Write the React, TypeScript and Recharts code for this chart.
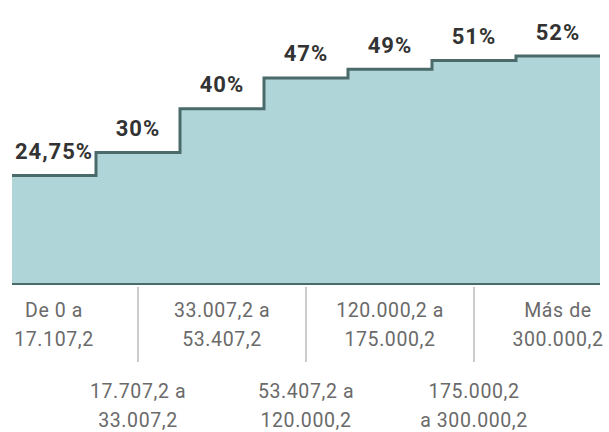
import { ComposedChart, Area, Scatter, XAxis, YAxis, LabelList } from 'recharts'

const brackets = [
  ['De 0 a', '17.107,2'],
  ['17.707,2 a', '33.007,2'],
  ['33.007,2 a', '53.407,2'],
  ['53.407,2 a', '120.000,2'],
  ['120.000,2 a', '175.000,2'],
  ['175.000,2', 'a 300.000,2'],
  ['Más de', '300.000,2'],
]
const rates = [24.75, 30, 40, 47, 49, 51, 52]
const rateLabels = ['24,75%', '30%', '40%', '47%', '49%', '51%', '52%']

const stepData = [...rates, rates[rates.length - 1]].map((rate, i) => ({ x: i, rate }))
const midData = rates.map((rate, i) => ({ x: i + 0.5, rate, label: rateLabels[i] }))
const tickPositions = rates.map((_, i) => i + 0.5)

const FONT = 'Roboto, "Liberation Sans", sans-serif'

const BracketTick = (props: any) => {
  const { x, y, index } = props
  const lines = brackets[index]
  const lower = index % 2 === 1
  const base = y + (lower ? 114 : 33)
  return (
    <g>
      {lower && <line x1={x} x2={x} y1={y + 3} y2={y + 78} stroke="#a8a8a8" strokeWidth={1.2} />}
      {lines.map((t, i) => (
        <text
          key={i}
          x={x}
          y={base + i * 29}
          textAnchor="middle"
          fill="#6a6a6a"
          fontSize={19.5}
          fontFamily={FONT}
          letterSpacing={0.6}
        >
          {t}
        </text>
      ))}
    </g>
  )
}

export default function App() {
  return (
    <div style={{ position: 'absolute', left: 0, top: 0, width: 609, height: 432, background: '#fff' }}>
      <ComposedChart width={609} height={432} data={stepData} margin={{ top: 21, right: 9, left: 12, bottom: 0 }}>
        <XAxis
          dataKey="x"
          type="number"
          domain={[0, 7]}
          ticks={tickPositions}
          interval={0}
          height={148}
          tickLine={false}
          tickSize={0}
          tickMargin={0}
          axisLine={{ stroke: '#4b6b6b', strokeWidth: 2 }}
          tick={<BracketTick />}
        />
        <YAxis hide domain={[0, 60]} />
        <Area
          type="stepAfter"
          dataKey="rate"
          stroke="#4b6b6b"
          strokeWidth={3}
          fill="#afd5d8"
          fillOpacity={1}
          isAnimationActive={false}
        />
        <Scatter data={midData} dataKey="rate" shape={() => null} isAnimationActive={false}>
          <LabelList
            dataKey="label"
            position="top"
            offset={12}
            fill="#333"
            fontSize={22}
            fontWeight="bold"
            fontFamily={FONT}
            letterSpacing={1}
          />
        </Scatter>
      </ComposedChart>
    </div>
  )
}
